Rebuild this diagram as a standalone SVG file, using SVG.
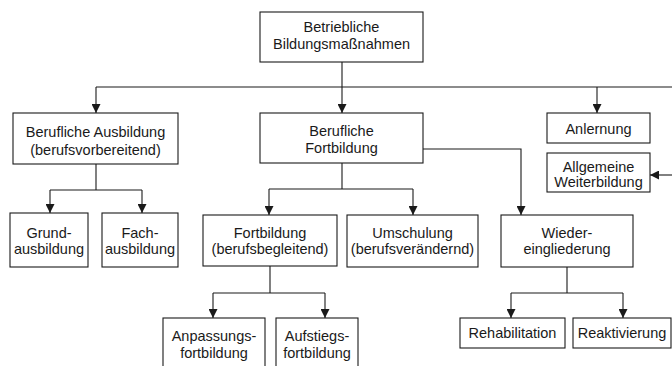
<svg xmlns="http://www.w3.org/2000/svg" width="672" height="366" viewBox="0 0 672 366">
  <style>
    .box { fill: #ffffff; stroke: #1a1a1a; stroke-width: 1.1; }
    .lbl { font-family: "Liberation Sans", Arial, sans-serif; font-size: 14.5px; fill: #1a1a1a; text-anchor: middle; }
    .wire { fill: none; stroke: #1a1a1a; stroke-width: 1.1; }
    .arr { fill: none; stroke: #1a1a1a; stroke-width: 1.1; marker-end: url(#head); }
  </style>
  <defs>
    <marker id="head" viewBox="0 0 10 10" refX="10" refY="5" markerWidth="9" markerHeight="9" markerUnits="userSpaceOnUse" orient="auto">
      <path d="M0,0 L10,5 L0,10 Z" fill="#1a1a1a"/>
    </marker>
  </defs>
  <rect width="672" height="366" fill="#ffffff"/>

  <!-- connectors -->
  <g id="connectors">
    <path class="wire" d="M342,62 V87 M96,87 H672"/>
    <path class="arr" d="M96,87 V113"/>
    <path class="arr" d="M342,87 V113"/>
    <path class="arr" d="M597,87 V113"/>
    <path class="arr" d="M672,175 H650"/>

    <path class="wire" d="M96,164 V190 M50,190 H142"/>
    <path class="arr" d="M50,190 V213"/>
    <path class="arr" d="M142,190 V213"/>

    <path class="wire" d="M342,163 V189 M269,189 H413"/>
    <path class="arr" d="M269,189 V215"/>
    <path class="arr" d="M413,189 V215"/>
    <path class="arr" d="M423,149 H521 V215"/>

    <path class="wire" d="M270,266 V293 M213,293 H325"/>
    <path class="arr" d="M213,293 V318"/>
    <path class="arr" d="M325,293 V318"/>

    <path class="wire" d="M567,267 V293 M511,293 H623"/>
    <path class="arr" d="M511,293 V318"/>
    <path class="arr" d="M623,293 V318"/>
  </g>

  <!-- nodes -->
  <g id="betriebliche">
    <rect class="box" x="260" y="12" width="163" height="50"/>
    <text class="lbl" x="341.5" y="32">Betriebliche</text>
    <text class="lbl" x="341.5" y="49">Bildungsmaßnahmen</text>
  </g>
  <g id="ausbildung">
    <rect class="box" x="13" y="113" width="165" height="51"/>
    <text class="lbl" x="95.5" y="137">Berufliche Ausbildung</text>
    <text class="lbl" x="95.5" y="155">(berufsvorbereitend)</text>
  </g>
  <g id="fortbildung">
    <rect class="box" x="260" y="113" width="163" height="50"/>
    <text class="lbl" x="341.5" y="136">Berufliche</text>
    <text class="lbl" x="341.5" y="153">Fortbildung</text>
  </g>
  <g id="anlernung">
    <rect class="box" x="547" y="113" width="103" height="30"/>
    <text class="lbl" x="598.5" y="134">Anlernung</text>
  </g>
  <g id="weiterbildung">
    <rect class="box" x="547" y="153" width="103" height="39"/>
    <text class="lbl" x="598.5" y="172">Allgemeine</text>
    <text class="lbl" x="598.5" y="187">Weiterbildung</text>
  </g>
  <g id="grundausbildung">
    <rect class="box" x="10" y="213" width="78" height="54"/>
    <text class="lbl" x="49" y="238">Grund-</text>
    <text class="lbl" x="49" y="254">ausbildung</text>
  </g>
  <g id="fachausbildung">
    <rect class="box" x="102" y="213" width="76" height="54"/>
    <text class="lbl" x="140" y="238">Fach-</text>
    <text class="lbl" x="140" y="254">ausbildung</text>
  </g>
  <g id="fortbildung-begleitend">
    <rect class="box" x="203" y="215" width="134" height="51"/>
    <text class="lbl" x="270" y="238">Fortbildung</text>
    <text class="lbl" x="270" y="254">(berufsbegleitend)</text>
  </g>
  <g id="umschulung">
    <rect class="box" x="347" y="215" width="131" height="52"/>
    <text class="lbl" x="412.5" y="238">Umschulung</text>
    <text class="lbl" x="412.5" y="254">(berufsverändernd)</text>
  </g>
  <g id="wiedereingliederung">
    <rect class="box" x="501" y="215" width="132" height="52"/>
    <text class="lbl" x="567" y="238">Wieder-</text>
    <text class="lbl" x="567" y="254">eingliederung</text>
  </g>
  <g id="anpassungsfortbildung">
    <rect class="box" x="163" y="318" width="102" height="60"/>
    <text class="lbl" x="214" y="341">Anpassungs-</text>
    <text class="lbl" x="214" y="358">fortbildung</text>
  </g>
  <g id="aufstiegsfortbildung">
    <rect class="box" x="276" y="318" width="82" height="60"/>
    <text class="lbl" x="317" y="341">Aufstiegs-</text>
    <text class="lbl" x="317" y="358">fortbildung</text>
  </g>
  <g id="rehabilitation">
    <rect class="box" x="460" y="318" width="105" height="30"/>
    <text class="lbl" x="512.5" y="338">Rehabilitation</text>
  </g>
  <g id="reaktivierung">
    <rect class="box" x="573" y="318" width="98" height="30"/>
    <text class="lbl" x="622" y="338">Reaktivierung</text>
  </g>
</svg>
